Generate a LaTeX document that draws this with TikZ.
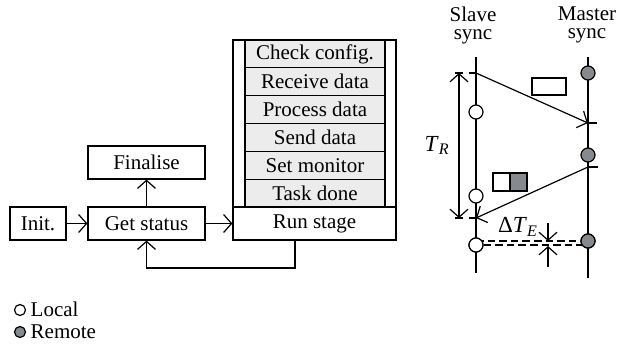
\documentclass[tikz,border=0pt]{standalone}
\usepackage{fontspec}
\setmainfont{Liberation Serif}
\usetikzlibrary{arrows.meta,positioning}
\definecolor{remotegray}{RGB}{133,138,143}
\begin{document}
\begin{tikzpicture}[x=0.5pt,y=-0.5pt,>={Straight Barb[length=4pt,width=9pt]},line width=0.6pt,
  font=\fontsize{10.5}{11}\selectfont,
  box/.style={draw,inner sep=0pt,minimum height=16.5pt},
  task/.style={draw,fill=gray!15,inner sep=0pt,minimum width=70pt,minimum height=13.9pt},
  local/.style={circle,draw,fill=white,inner sep=0pt,minimum size=7pt},
  remote/.style={circle,draw,fill=remotegray,inner sep=0pt,minimum size=7pt}]
  \useasboundingbox (0,0) rectangle (618,344);
  % flow chart
  \node[box,minimum width=28pt]   (init)      at (38,223.5)    {Init.};
  \node[box,minimum width=58.5pt] (getstatus) at (146.5,223.5) {Get status};
  \node[box,minimum width=58.5pt] (finalise)  at (146.5,162.5) {Finalise};
  \node[box,minimum width=81.5pt] (runstage)  at (314.5,223.5) {Run stage};
  \draw (233,40) rectangle (396,207);
  \foreach \name/\txt [count=\i] in {check/Check config.,receive/Receive data,
      process/Process data,send/Send data,monitor/Set monitor,done/Task done}
    \node[task] (\name) at (315,{40+27.83*(\i-0.5)}) {\txt};
  \path[->]
    (init) edge (getstatus)
    (getstatus)
      edge (finalise)
      edge (runstage)
  ;
  \coordinate (fb) at (295,268);
  \draw[->] (runstage.south -| fb) -- (fb) -| (getstatus.south);
  % timing
  \node[align=center] (slave)  at (473,25) {Slave\\[-2pt]sync};
  \node[align=center] (master) at (587,25) {Master\\[-2pt]sync};
  \coordinate (sltop) at (476,57);
  \coordinate (sldn)  at (476,273);
  \coordinate (matop) at (588,57);
  \coordinate (madn)  at (588,278);
  \coordinate (s1) at (476,73);
  \coordinate (m1) at (588,123);
  \coordinate (m2) at (588,167);
  \coordinate (s2) at (476,218);
  \draw (sltop) -- (sldn);
  \draw (matop) -- (madn);
  \draw[dashed,dash pattern=on 3.8pt off 3pt] (455,73) -- (s1);
  \draw[dashed,dash pattern=on 3.8pt off 3pt] (455,218) -- (s2);
  \draw (m1) -- ++(9,0);
  \draw (m2) -- ++(10,0);
  \draw[<->] (459,73) -- node[left=1pt,font=\fontsize{11.5}{12}\selectfont] {\textit{T}\textsubscript{\textit{R}}} (459,218);
  \draw[->] (s1) -- (m1);
  \draw[->] (m2) -- (s2);
  \draw (532,78) rectangle (566,95);
  \draw (493,173) rectangle (510,191);
  \draw[fill=remotegray] (510,173) rectangle (527,191);
  \node[remote] (r1) at (588,73)  {};
  \node[local]  (l1) at (476,112) {};
  \node[remote] (r2) at (588,155) {};
  \node[local]  (l2) at (476,196) {};
  \node[local]  (l3) at (476,245) {};
  \node[remote] (r3) at (588,241) {};
  \draw[dashed,dash pattern=on 3.8pt off 2pt] (l3 |- r3) -- (r3);
  \draw[dashed,dash pattern=on 3.8pt off 2pt] (l3) -- (r3 |- l3);
  \node[local]  at (l3) {};
  \node[remote] at (r3) {};
  \draw[->] (548,223) -- (548,241);
  \draw[->] (548,267) -- (548,246);
  \node[font=\fontsize{11.5}{12}\selectfont] (dte) at (518,227) {Δ\textit{T}\textsubscript{\textit{E}}};
  % legend
  \node[local,minimum size=5.5pt]  (lloc) at (20,310) {};
  \node[remote,minimum size=5.5pt] (lrem) at (20,332) {};
  \node[right=2pt of lloc,inner sep=0pt,anchor=base west,yshift=-3pt] (tloc) {Local};
  \node[right=2pt of lrem,inner sep=0pt,anchor=base west,yshift=-3pt] (trem) {Remote};
\end{tikzpicture}
\end{document}
